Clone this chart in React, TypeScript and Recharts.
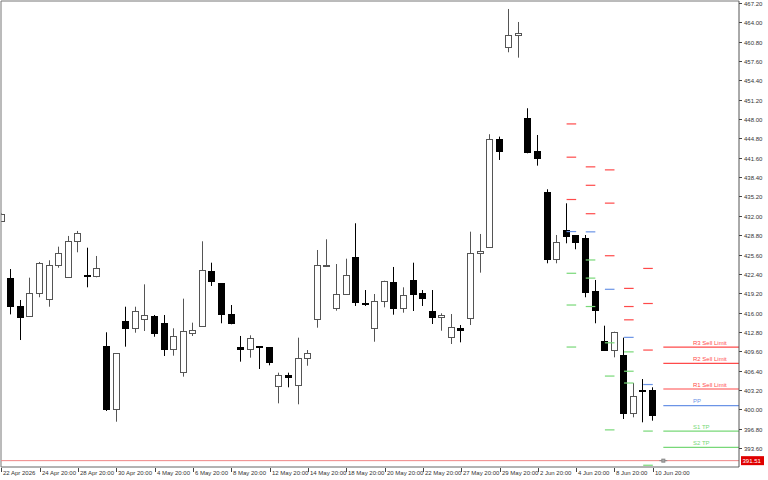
import React from "react";
import {
  ComposedChart,
  Bar,
  Scatter,
  XAxis,
  YAxis,
  ReferenceLine,
} from "recharts";

// H12 candles, bar index 0 = 22 Apr 2026 20:00 ... 68 = 10 Jun 20:00
const OPEN = [
  431.2, 421.67, 417.14, 415.5, 419.24, 418.2, 423.82, 421.93, 427.79, 422.16,
  422.1, 410.52, 400.05, 414.66, 413.5, 414.94, 415.48, 414.33, 410.03, 406.22,
  412.7, 413.78, 422.93, 420.84, 415.82, 410.3, 410.03, 410.4, 410.25, 403.86,
  405.66, 403.97, 408.44, 414.99, 423.7, 416.76, 419.02, 425.24, 417.64, 413.5,
  417.91, 421.06, 416.7, 421.44, 419.29, 416.21, 415.22, 411.91, 413.5, 415.05,
  425.8, 426.85, 444.66, 459.87, 461.91, 448.13, 442.72, 435.99, 424.81, 429.66,
  428.83, 428.29, 419.57, 411.3, 409.81, 408.98, 399.34, 403.24, 403.19,
];
const HIGH = [
  432.4, 423.2, 418.08, 421.77, 424.37, 424.65, 426.9, 428.67, 429.5, 426.73,
  425.36, 412.74, 409.26, 416.97, 416.97, 420.67, 415.6, 415.6, 413.4, 418.3,
  414.33, 427.79, 424.25, 420.84, 417.25, 412.13, 412.24, 410.4, 410.25, 406.06,
  406.06, 411.85, 409.81, 426.35, 428.12, 424.03, 424.91, 430.77, 419.73, 419.07,
  421.27, 423.54, 420.18, 424.25, 419.73, 419.73, 415.88, 415.76, 413.94, 429.38,
  429.0, 445.5, 445.1, 466.21, 464.06, 449.79, 445.37, 436.39, 428.83, 434.07,
  428.83, 428.83, 421.39, 413.83, 412.84, 411.85, 404.35, 405.01, 403.64,
];
const LOW = [
  431.0, 415.7, 411.46, 415.5, 418.53, 416.97, 423.42, 421.93, 425.97, 420.18,
  421.83, 399.72, 397.95, 410.36, 412.67, 412.95, 412.0, 408.82, 408.87, 405.4,
  412.13, 413.78, 420.4, 414.23, 414.06, 407.88, 408.54, 406.67, 407.28, 400.99,
  403.64, 400.83, 407.21, 413.5, 423.59, 416.31, 419.02, 417.09, 417.09, 411.18,
  416.87, 415.65, 415.98, 416.26, 417.09, 414.11, 413.0, 410.8, 411.08, 413.94,
  422.6, 426.85, 441.24, 459.05, 458.16, 442.34, 440.3, 424.15, 424.15, 427.46,
  426.47, 418.53, 414.23, 409.64, 408.6, 398.4, 398.68, 397.85, 398.12,
];
const CLOSE = [
  432.3, 417.14, 415.22, 419.24, 424.2, 423.82, 425.8, 427.79, 429.11, 422.0,
  423.32, 400.05, 409.26, 413.45, 416.21, 415.6, 412.57, 409.98, 412.07, 412.9,
  413.1, 422.99, 421.22, 415.71, 414.28, 410.0, 411.8, 410.3, 407.83, 405.67,
  405.4, 408.44, 409.26, 423.82, 423.9, 419.02, 422.21, 417.7, 417.6, 417.86,
  421.27, 416.76, 418.96, 419.12, 418.46, 415.22, 415.55, 413.56, 413.12, 425.8,
  426.18, 444.66, 442.77, 461.96, 462.24, 442.61, 441.57, 424.86, 427.72, 428.67,
  427.72, 419.45, 416.43, 409.81, 412.74, 399.34, 402.15, 403.2, 399.06,
];

const TICK_BARS = [0, 4, 8, 12, 16, 20, 24, 28, 32, 36, 40, 44, 48, 52, 56, 60, 64, 68];
const TICK_LABELS = [
  "22 Apr 2026", "24 Apr 20:00", "28 Apr 20:00", "30 Apr 20:00", "4 May 20:00",
  "6 May 20:00", "8 May 20:00", "12 May 20:00", "14 May 20:00", "18 May 20:00",
  "20 May 20:00", "22 May 20:00", "27 May 20:00", "29 May 20:00", "2 Jun 20:00",
  "4 Jun 20:00", "8 Jun 20:00", "10 Jun 20:00",
];
const PRICE_TICKS = [
  393.6, 396.8, 400, 403.2, 406.4, 409.6, 412.8, 416, 419.2, 422.4, 425.6, 428.8,
  432, 435.2, 438.4, 441.6, 444.8, 448, 451.2, 454.4, 457.6, 460.8, 464, 467.2,
];

// daily pivot dashes, one per day (first bar of the day)
const PIVOT_DAY_BARS = [59, 61, 63, 65, 67];
const PIV_R3 = [447.2, 440.1, 439.6, 420.0, 423.3];
const PIV_R2 = [441.7, 437.05, 434.1, 417.0, 417.5];
const PIV_R1 = [434.7, 432.35, 425.4, 414.8, 409.8];
const PIV_PP = [429.4, 429.35, 419.85, 411.9, 404.1];
const PIV_S1 = [422.5, 424.7, 411.0, 409.5, 396.4];
const PIV_S2 = [417.25, 421.7, 405.5, 406.3, 390.75];
const PIV_S3 = [410.3, 417.0, 396.6, 404.35, null];

// levels of the coming day
const LEVEL_NAMES = ["R3 Sell Limit", "R2 Sell Limit", "R1 Sell Limit", "PP", "S1 TP", "S2 TP"];
const LEVEL_VALUES = [410.3, 407.6, 403.36, 400.6, 396.4, 393.7];

const BID = 391.51;

const X_MIN = -0.05;
const X_MAX = 77;
const Y_MIN = 390.46;
const Y_MAX = 467.53;
const LEVEL_START = 69.1;
const LABEL_AT = 72.2;

const RED = "#ff4a4a";
const GREEN = "#78d878";
const BLUE = "#6b94e6";
const FONT = "'Liberation Sans', Arial, sans-serif";

const candles = OPEN.map((o, i) => ({
  i,
  open: o,
  high: HIGH[i],
  low: LOW[i],
  close: CLOSE[i],
  range: [LOW[i], HIGH[i]],
}));

const levelColor = (name: string) =>
  name.startsWith("R") ? RED : name.startsWith("PP") ? BLUE : GREEN;

const levelLabels = LEVEL_NAMES.map((name, k) => ({
  i: LABEL_AT,
  v: LEVEL_VALUES[k],
  name,
}));

const pivotSets = [
  { vals: PIV_R3, color: RED },
  { vals: PIV_R2, color: RED },
  { vals: PIV_R1, color: RED },
  { vals: PIV_PP, color: BLUE },
  { vals: PIV_S1, color: GREEN },
  { vals: PIV_S2, color: GREEN },
  { vals: PIV_S3, color: GREEN },
];

function Candle(props: any) {
  const { x, y, width, height, payload } = props;
  if (x == null || y == null || !payload) return null;
  const { open, close, high, low } = payload;
  const cx = Math.floor(x + width / 2) + 0.5;
  const k = high > low ? height / (high - low) : 0;
  const py = (v: number) => y + (high - v) * k;
  const up = close >= open;
  const top = Math.round(py(Math.max(open, close))) + 0.5;
  let bot = Math.round(py(Math.min(open, close))) + 0.5;
  if (bot - top < 1) bot = top + 1;
  const col = up ? "#555" : "#000";
  return (
    <g>
      <line x1={cx} x2={cx} y1={y} y2={y + height} stroke={col} strokeWidth={1} />
      <rect
        x={cx - 3}
        y={top}
        width={6}
        height={bot - top}
        fill={up ? "#fff" : "#000"}
        stroke={col}
        strokeWidth={1}
      />
    </g>
  );
}

function TimeTick({ x, y, payload }: any) {
  const idx = TICK_BARS.indexOf(payload.value);
  const tx = Math.round(x) + 0.5;
  return (
    <g>
      <line x1={tx} x2={tx} y1={y + 1} y2={y + 5} stroke="#444" />
      <text x={tx + 1.5} y={y + 7.5} fontSize={6} fill="#333" fontFamily={FONT}>
        {TICK_LABELS[idx]}
      </text>
    </g>
  );
}

function PriceTick({ x, y, payload }: any) {
  const ty = Math.round(y) + 0.5;
  return (
    <g>
      <line x1={x} x2={x + 3} y1={ty} y2={ty} stroke="#444" />
      <text x={x + 5} y={ty + 2} fontSize={6} fill="#333" fontFamily={FONT}>
        {Number(payload.value).toFixed(2)}
      </text>
    </g>
  );
}

function LevelLabel({ cx, cy, payload }: any) {
  if (cx == null || !payload) return null;
  return (
    <text x={cx} y={cy - 2.5} fontSize={6} fill={levelColor(payload.name)} fontFamily={FONT}>
      {payload.name}
    </text>
  );
}

// bid tag on the price scale, drawn from the bid line's label
function bidTag(props: any) {
  const vb = props.viewBox || {};
  if (vb.x == null) return null;
  const right = vb.x + (vb.width || 0);
  const cy = vb.y + (vb.height || 0) / 2;
  return (
    <g>
      <rect x={right + 2} y={cy - 4.5} width={23} height={9} fill="#e00000" />
      <text x={right + 3.5} y={cy + 2} fontSize={6} fill="#fff" fontFamily={FONT}>
        {BID.toFixed(2)}
      </text>
    </g>
  );
}

function ShiftMark({ cx, cy }: any) {
  if (cx == null) return null;
  return (
    <g stroke="#888" fill="#aaa">
      <line x1={cx - 4} x2={cx + 4} y1={cy} y2={cy} />
      <rect x={cx - 1.5} y={cy - 1.5} width={3} height={3} />
    </g>
  );
}

export default function App() {
  return (
    <div style={{ position: "absolute", left: 0, top: 0, background: "#fff" }}>
      <ComposedChart
        width={768}
        height={480}
        data={candles}
        margin={{ top: 1, right: 0, bottom: 0, left: 1 }}
      >
        <XAxis
          type="number"
          dataKey="i"
          domain={[X_MIN, X_MAX]}
          allowDataOverflow
          ticks={TICK_BARS}
          interval={0}
          height={13}
          tickSize={0}
          tickMargin={0}
          tickLine={false}
          axisLine={{ stroke: "#666" }}
          tick={<TimeTick />}
        />
        <YAxis
          type="number"
          orientation="right"
          domain={[Y_MIN, Y_MAX]}
          allowDataOverflow
          ticks={PRICE_TICKS}
          interval={0}
          width={29}
          tickSize={0}
          tickMargin={0}
          tickLine={false}
          axisLine={{ stroke: "#555" }}
          tick={<PriceTick />}
        />
        <ReferenceLine x={X_MIN} stroke="#777" ifOverflow="extendDomain" />
        <ReferenceLine y={Y_MAX} stroke="#777" ifOverflow="extendDomain" />

        {pivotSets.flatMap((set, s) =>
          PIVOT_DAY_BARS.map((bar, d) =>
            set.vals[d] == null ? null : (
              <ReferenceLine
                key={`p${s}-${d}`}
                segment={[
                  { x: bar, y: set.vals[d] as number },
                  { x: bar + 1, y: set.vals[d] as number },
                ]}
                stroke={set.color}
                strokeWidth={1.2}
              />
            )
          )
        )}

        {LEVEL_NAMES.map((name, k) => (
          <ReferenceLine
            key={name}
            segment={[
              { x: LEVEL_START, y: LEVEL_VALUES[k] },
              { x: X_MAX, y: LEVEL_VALUES[k] },
            ]}
            stroke={levelColor(name)}
            strokeWidth={1.2}
          />
        ))}

        <Bar dataKey="range" barSize={7} shape={<Candle />} isAnimationActive={false} />

        <Scatter
          data={levelLabels}
          dataKey="v"
          shape={<LevelLabel />}
          isAnimationActive={false}
        />
        <Scatter
          data={[{ i: LEVEL_START, v: BID }]}
          dataKey="v"
          shape={<ShiftMark />}
          isAnimationActive={false}
        />
        <ReferenceLine y={BID} stroke="#ee8585" label={bidTag} />
      </ComposedChart>
    </div>
  );
}
